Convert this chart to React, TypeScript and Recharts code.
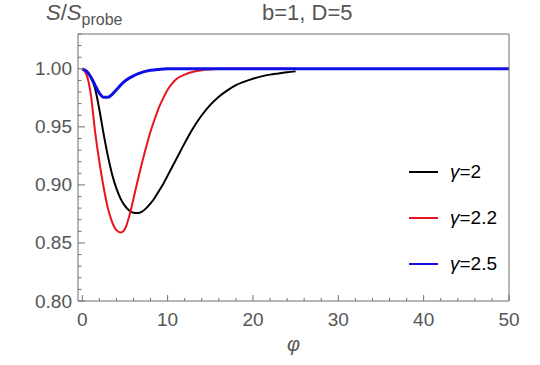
import React from "react";
import { LineChart, Line, XAxis, YAxis } from "recharts";

// phi values and S/S_probe
const phiBlack = [0, 0.5, 1, 1.5, 2, 2.5, 3, 3.5, 4, 4.5, 5, 5.5, 6, 6.5, 7, 7.5, 8, 8.5, 9, 9.5, 10, 11, 12, 13, 14, 15, 16, 17, 18, 19, 20, 21, 22, 23, 24, 25];
const sBlack = [1.0, 0.998, 0.993, 0.983, 0.965, 0.944, 0.925, 0.909, 0.897, 0.888, 0.882, 0.878, 0.876, 0.8757, 0.877, 0.88, 0.884, 0.889, 0.895, 0.901, 0.908, 0.922, 0.936, 0.949, 0.96, 0.969, 0.976, 0.9815, 0.986, 0.989, 0.9915, 0.9935, 0.995, 0.996, 0.997, 0.9978];

const phiRed = [0, 0.5, 1, 1.5, 2, 2.5, 3, 3.5, 4, 4.5, 5, 5.5, 6, 6.5, 7, 7.5, 8, 8.5, 9, 9.5, 10, 10.5, 11, 12, 13, 14, 15, 16, 18, 20, 25];
const sRed = [1.0, 0.995, 0.978, 0.946, 0.92, 0.898, 0.88, 0.868, 0.861, 0.859, 0.862, 0.873, 0.888, 0.904, 0.919, 0.933, 0.946, 0.957, 0.967, 0.975, 0.982, 0.987, 0.991, 0.995, 0.9975, 0.9988, 0.9995, 1.0, 1.0, 1.0, 1.0];

const phiBlue = [0, 0.5, 1, 1.5, 2, 2.5, 3, 3.5, 4, 4.5, 5, 5.5, 6, 6.5, 7, 7.5, 8, 9, 10, 20, 30, 40, 50];
const sBlue = [1.0, 0.998, 0.993, 0.986, 0.979, 0.9755, 0.9755, 0.978, 0.982, 0.986, 0.9895, 0.992, 0.994, 0.9957, 0.997, 0.998, 0.9987, 0.9995, 1.0, 1.0, 1.0, 1.0, 1.0];

const xTicks = [0, 2, 4, 6, 8, 10, 12, 14, 16, 18, 20, 22, 24, 26, 28, 30, 32, 34, 36, 38, 40, 42, 44, 46, 48, 50];
const xMajor = [0, 10, 20, 30, 40, 50];
const yTicks = [0.8, 0.81, 0.82, 0.83, 0.84, 0.85, 0.86, 0.87, 0.88, 0.89, 0.9, 0.91, 0.92, 0.93, 0.94, 0.95, 0.96, 0.97, 0.98, 0.99, 1.0, 1.01, 1.02, 1.03];
const yMajor = ["0.80", "0.85", "0.90", "0.95", "1.00"];

const seriesNames = ["γ=2", "γ=2.2", "γ=2.5"];
const seriesColors = ["#000000", "#e8141c", "#1010e6"];

const FRAME = "#6e6e6e";
const TEXT = "#555555";
const FONT = "'Liberation Sans', Arial, sans-serif";

const toRows = (phi: number[], s: number[]) => phi.map((p, i) => ({ phi: p, s: s[i] }));

function XTick({ x, y, payload, side }: any) {
  const major = xMajor.includes(payload.value);
  const len = major ? 6 : 3;
  const dir = side === "top" ? 1 : -1;
  return (
    <g>
      <line x1={x} x2={x} y1={y} y2={y + dir * len} stroke={FRAME} strokeWidth={1} />
      {side !== "top" && major && (
        <text x={x} y={y + 18} textAnchor="middle" dominantBaseline="central" fill={TEXT} fontSize={19} fontFamily={FONT}>
          {payload.value}
        </text>
      )}
    </g>
  );
}

function YTick({ x, y, payload, side }: any) {
  const label = payload.value.toFixed(2);
  const major = yMajor.includes(label);
  const len = major ? 7 : 3.5;
  const dir = side === "right" ? -1 : 1;
  return (
    <g>
      <line x1={x} x2={x + dir * len} y1={y} y2={y} stroke={FRAME} strokeWidth={1} />
      {side !== "right" && major && (
        <text x={x - 6} y={y} textAnchor="end" dominantBaseline="central" fill={TEXT} fontSize={19} fontFamily={FONT}>
          {label}
        </text>
      )}
    </g>
  );
}

export default function App() {
  const black = toRows(phiBlack, sBlack);
  const red = toRows(phiRed, sRed);
  const blue = toRows(phiBlue, sBlue);
  const sets = [black, red, blue];

  return (
    <div style={{ position: "absolute", left: 0, top: 0, width: 540, height: 365, background: "#fff", fontFamily: FONT }}>
      <LineChart width={540} height={365} margin={{ top: 0, right: 0, bottom: 34, left: 8 }}>
        <XAxis
          xAxisId={0}
          dataKey="phi"
          type="number"
          domain={[-0.5, 50]}
          ticks={xTicks}
          interval={0}
          allowDuplicatedCategory={false}
          height={30}
          tickSize={0}
          tickMargin={0}
          axisLine={{ stroke: FRAME }}
          tick={<XTick side="bottom" />}
          label={{ value: "φ", position: "bottom", offset: 6, fill: TEXT, fontSize: 20, fontStyle: "italic", fontFamily: FONT }}
        />
        <XAxis
          xAxisId="top"
          orientation="top"
          dataKey="phi"
          type="number"
          domain={[-0.5, 50]}
          ticks={xTicks}
          interval={0}
          allowDuplicatedCategory={false}
          height={34}
          tickSize={0}
          tickMargin={0}
          axisLine={{ stroke: FRAME }}
          tick={<XTick side="top" />}
        />
        <YAxis
          yAxisId={0}
          type="number"
          domain={[0.8, 1.03]}
          ticks={yTicks}
          interval={0}
          width={70}
          tickSize={0}
          tickMargin={0}
          axisLine={{ stroke: FRAME }}
          tick={<YTick side="left" />}
        />
        <YAxis
          yAxisId="right"
          orientation="right"
          type="number"
          domain={[0.8, 1.03]}
          ticks={yTicks}
          interval={0}
          width={31}
          tickSize={0}
          tickMargin={0}
          axisLine={{ stroke: FRAME }}
          tick={<YTick side="right" />}
        />
        {sets.map((d, i) => (
          <Line
            key={seriesNames[i]}
            data={d}
            dataKey="s"
            name={seriesNames[i]}
            type="monotone"
            stroke={seriesColors[i]}
            strokeWidth={i === 2 ? 3 : 2}
            dot={false}
            activeDot={false}
            isAnimationActive={false}
          />
        ))}
      </LineChart>

      {/* frame labels */}
      <div style={{ position: "absolute", left: 46, top: 0, color: TEXT, fontSize: 22, whiteSpace: "nowrap" }}>
        <i>S</i>/<i>S</i>
        <span style={{ fontSize: 16, position: "relative", top: 5 }}>probe</span>
      </div>
      <div style={{ position: "absolute", left: 262, top: 0, color: TEXT, fontSize: 22, whiteSpace: "nowrap" }}>
        b=1, D=5
      </div>

      {/* legend */}
      <div style={{ position: "absolute", left: 409, top: 160, color: "#000" }}>
        {seriesNames.map((n, i) => (
          <div key={n} style={{ display: "flex", alignItems: "center", height: 24, marginBottom: i < 2 ? 22 : 0 }}>
            <div style={{ width: 29, height: 2, background: seriesColors[i] }} />
            <span style={{ marginLeft: 12, fontSize: 19, whiteSpace: "nowrap" }}>
              <i>γ</i>=
              {n.slice(2)}
            </span>
          </div>
        ))}
      </div>
    </div>
  );
}
